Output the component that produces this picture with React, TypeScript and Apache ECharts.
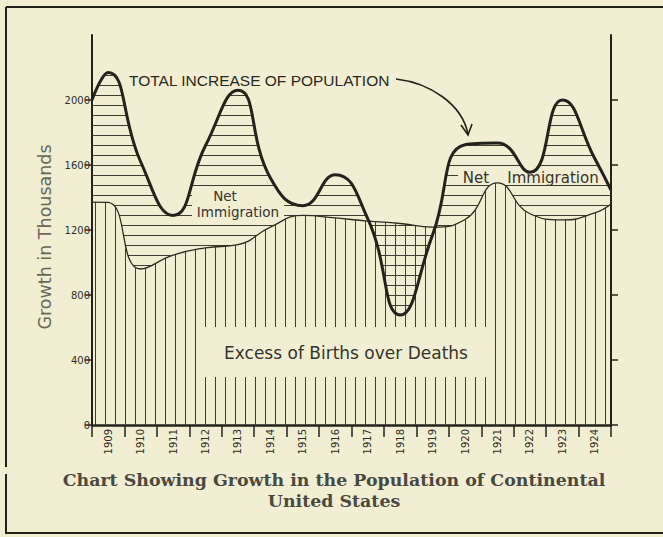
import React, { useEffect, useRef } from 'react';
import * as echarts from 'echarts';

// Year bands shown on the category axis
const years = ['1909', '1910', '1911', '1912', '1913', '1914', '1915', '1916', '1917', '1918', '1919', '1920', '1921', '1922', '1923', '1924'];
// Positions (in years) where the curves were read: band edges + band centres
const curveX = [1908.5, 1909, 1910, 1911, 1912, 1913, 1914, 1915, 1916, 1917, 1918, 1919, 1920, 1921, 1922, 1923, 1924, 1924.5];
// Total increase of population (thousands)
const totalIncrease = [2000, 2170, 1620, 1290, 1720, 2060, 1520, 1350, 1540, 1270, 677, 1170, 1725, 1735, 1555, 2000, 1640, 1446];
// Excess of births over deaths (thousands)
const excessBirths = [1372, 1370, 960, 1045, 1090, 1110, 1218, 1290, 1274, 1255, 1240, 1218, 1265, 1490, 1300, 1262, 1305, 1360];
// Y tick values
const yTicks = [0, 400, 800, 1200, 1600, 2000];
const yMax = 2400;

const PAPER = '#f1eed3';
const INK = '#24231b';
const HATCH = '#3f3d31';
const LABEL = '#35342b';

function makeHatch(dir: 'v' | 'h', size: number): HTMLCanvasElement {
  const c = document.createElement('canvas');
  c.width = size;
  c.height = size;
  const ctx = c.getContext('2d')!;
  ctx.fillStyle = HATCH;
  if (dir === 'v') ctx.fillRect(Math.floor(size / 2), 0, 1, size);
  else ctx.fillRect(0, Math.floor(size / 2), size, 1);
  return c;
}

function label(text: string, x: number, y: number, fontSize: number, lineHeight: number, extra: any = {}) {
  return {
    type: 'text', z: 11, x, y, ...extra,
    style: {
      text, fontSize, lineHeight, fontFamily: 'DejaVu Sans', fill: LABEL,
      align: 'center', verticalAlign: 'middle', textAlign: 'center', textVerticalAlign: 'middle',
      ...(extra.style || {}),
    },
  };
}

export default function App() {
  const ref = useRef<HTMLDivElement>(null);
  useEffect(() => {
    document.body.style.margin = '0';
    const chart = echarts.init(ref.current!, null, { renderer: 'svg' });
    const netImmigration = totalIncrease.map((t, i) => t - excessBirths[i]);
    const vPat = makeHatch('v', 10);
    const hPat = makeHatch('h', 10);
    const birthsPts = curveX.map((x, i) => [x, excessBirths[i]]);
    const totalPts = curveX.map((x, i) => [x, totalIncrease[i]]);
    const immPts = curveX.map((x, i) => [x, netImmigration[i]]);
    const captionStyle = {
      fontSize: 17.4, lineHeight: 18, fontWeight: 'bold', fontFamily: 'DejaVu Serif', fill: '#4a4940',
      align: 'center', verticalAlign: 'middle', textAlign: 'center', textVerticalAlign: 'middle',
    };

    chart.setOption({
      animation: false,
      backgroundColor: PAPER,
      grid: { left: 92, right: 52, top: 35, bottom: 112, outerBoundsMode: 'none' },
      xAxis: [
        {
          type: 'category',
          data: years,
          boundaryGap: true,
          position: 'bottom',
          axisLine: { show: true, lineStyle: { color: INK, width: 2.5 } },
          axisTick: { show: true, interval: 0, length: 12, lineStyle: { color: INK, width: 1.5 } },
          axisLabel: {
            interval: 0,
            rotate: 90,
            margin: 4,
            fontSize: 10,
            fontFamily: 'DejaVu Sans',
            color: '#2f2e26',
          },
          splitLine: { show: false },
        },
        {
          type: 'time',
          min: 1908.5,
          max: 1924.5,
          show: false,
          splitLine: { show: false },
        },
      ],
      yAxis: [
        {
          type: 'value',
          min: 0,
          max: yMax,
          interval: 400,
          position: 'left',
          axisLine: { show: true, lineStyle: { color: INK, width: 2 } },
          axisTick: { show: true, length: 7, customValues: yTicks, lineStyle: { color: INK, width: 1.5 } },
          axisLabel: {
            customValues: yTicks, margin: 2, fontSize: 10, fontFamily: 'DejaVu Sans', color: '#2f2e26',
            formatter: (v: number) => String(v),
          },
          splitLine: { show: false },
        },
        {
          type: 'value',
          min: 0,
          max: yMax,
          interval: 400,
          position: 'right',
          axisLine: { show: true, lineStyle: { color: INK, width: 2 } },
          axisTick: { show: true, length: 7, customValues: yTicks, lineStyle: { color: INK, width: 1.5 } },
          axisLabel: { show: false },
          splitLine: { show: false },
        },
      ],
      series: [
        {
          type: 'line',
          name: 'Excess of Births over Deaths (area)',
          xAxisIndex: 1,
          yAxisIndex: 0,
          data: birthsPts,
          smooth: 0.5,
          symbol: 'none',
          stack: 'pop',
          stackStrategy: 'all',
          lineStyle: { width: 0, opacity: 0 },
          areaStyle: { color: { image: vPat, repeat: 'repeat' }, opacity: 1 },
          silent: true,
          z: 2,
        },
        {
          type: 'line',
          name: 'Net Immigration (area)',
          xAxisIndex: 1,
          yAxisIndex: 0,
          data: immPts,
          smooth: 0.5,
          symbol: 'none',
          stack: 'pop',
          stackStrategy: 'all',
          lineStyle: { width: 0, opacity: 0 },
          areaStyle: { color: { image: hPat, repeat: 'repeat' }, opacity: 1 },
          silent: true,
          z: 3,
        },
        {
          type: 'line',
          name: 'Excess of Births over Deaths',
          xAxisIndex: 1,
          yAxisIndex: 0,
          data: birthsPts,
          smooth: 0.5,
          symbol: 'none',
          lineStyle: { color: '#2c2b22', width: 1.3 },
          z: 30,
        },
        {
          type: 'line',
          name: 'Total Increase of Population',
          xAxisIndex: 1,
          yAxisIndex: 0,
          data: totalPts,
          smooth: 0.5,
          symbol: 'none',
          lineStyle: { color: INK, width: 3 },
          z: 31,
        },
      ],
      graphic: [
        // frame
        { type: 'line', z: 20, shape: { x1: 6, y1: 7, x2: 663, y2: 7 }, style: { stroke: INK, lineWidth: 2 } },
        { type: 'line', z: 20, shape: { x1: 6, y1: 7, x2: 6, y2: 467 }, style: { stroke: INK, lineWidth: 2 } },
        { type: 'line', z: 20, shape: { x1: 6, y1: 474, x2: 6, y2: 534 }, style: { stroke: INK, lineWidth: 2 } },
        { type: 'line', z: 20, shape: { x1: 6, y1: 533, x2: 663, y2: 533 }, style: { stroke: INK, lineWidth: 2 } },
        // y axis title
        label('Growth in Thousands', 45, 237, 17.5, 18, { rotation: Math.PI / 2, style: { fill: '#68675b' } }),
        // label boxes
        { type: 'rect', z: 10, shape: { x: 205, y: 327, width: 283, height: 50 }, style: { fill: PAPER } },
        label('Excess of Births over Deaths', 346, 353, 17, 20),
        { type: 'rect', z: 10, shape: { x: 192, y: 188, width: 92, height: 31 }, style: { fill: PAPER } },
        label('Net', 225, 195.5, 13.5, 14),
        label('Immigration', 238, 211.5, 13.5, 14),
        { type: 'rect', z: 10, shape: { x: 458, y: 169, width: 148, height: 14 }, style: { fill: PAPER } },
        label('Net', 476, 178, 15, 14),
        label('Immigration', 553, 178, 15, 14),
        // total increase annotation
        {
          type: 'text', z: 11, x: 129, y: 80,
          style: { text: 'TOTAL INCREASE OF POPULATION', fontSize: 15.5, fontFamily: 'Liberation Sans', fill: '#2a2920', align: 'left', verticalAlign: 'middle', textAlign: 'left', textVerticalAlign: 'middle' },
        },
        {
          type: 'bezierCurve', z: 11,
          shape: { x1: 396, y1: 79, cpx1: 430, cpy1: 83, cpx2: 462, cpy2: 104, x2: 468, y2: 134 },
          style: { stroke: INK, lineWidth: 1.6, fill: 'none' },
        },
        {
          type: 'polyline', z: 11,
          shape: { points: [[461, 125], [468, 135], [472, 124]] },
          style: { stroke: INK, lineWidth: 1.6, fill: 'none' },
        },
        // caption
        { type: 'text', z: 11, x: 334, y: 480, style: { text: 'Chart Showing Growth in the Population of Continental', ...captionStyle } },
        { type: 'text', z: 11, x: 334, y: 500.5, style: { text: 'United States', ...captionStyle } },
      ],
    });
    return () => chart.dispose();
  }, []);
  return <div ref={ref} style={{ position: 'fixed', left: 0, top: 0, width: 663, height: 537 }} />;
}
